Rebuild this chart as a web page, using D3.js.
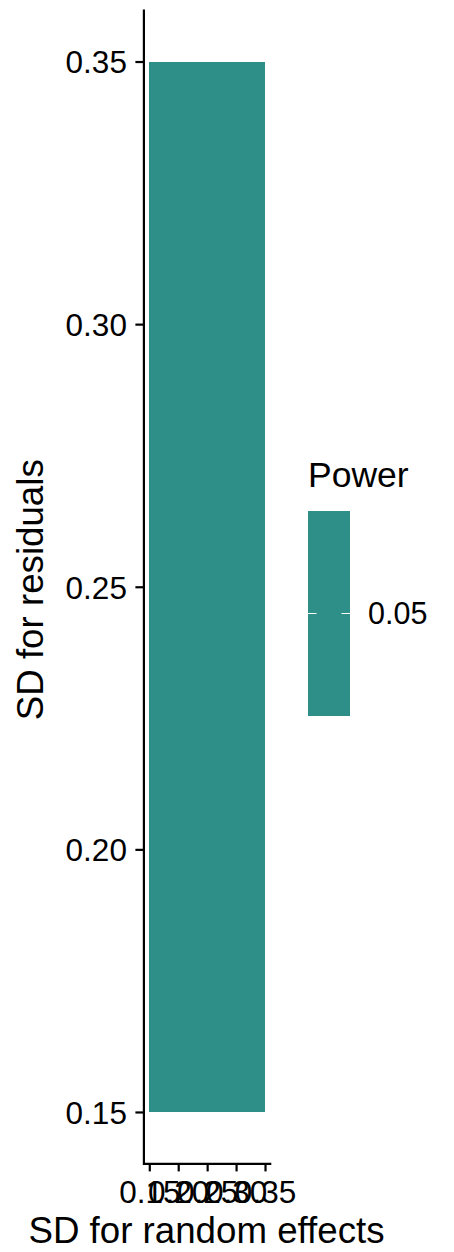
<!DOCTYPE html>
<meta charset="utf-8">
<head>
<style>
  * { margin: 0; padding: 0; }
  body { background: #fff; }
  svg { display: block; font-family: "Liberation Sans", Arial, sans-serif; }
</style>
</head>
<body>
<svg id="chart" width="454" height="1252"></svg>
<script src="https://cdn.jsdelivr.net/npm/d3@7"></script>
<script>
  // grid of the simulation: SD for random effects (x) and SD for residuals (y)
  var sdRandom = [0.15, 0.20, 0.25, 0.30, 0.35];
  var sdResidual = [0.15, 0.20, 0.25, 0.30, 0.35];
  // power for each cell, rows = residual SD, cols = random SD
  var power = [
    [0.05, 0.05, 0.05, 0.05],
    [0.05, 0.05, 0.05, 0.05],
    [0.05, 0.05, 0.05, 0.05],
    [0.05, 0.05, 0.05, 0.05]
  ];
  var xTicks = [0.15, 0.20, 0.25, 0.30, 0.35];
  var yTicks = [0.15, 0.20, 0.25, 0.30, 0.35];
  var legendTicks = [0.05];

  var svg = d3.select("#chart");

  var x = d3.scaleLinear().domain([0.14, 0.36]).range([143.5, 270.8]);
  var y = d3.scaleLinear().domain([0.14, 0.36]).range([1164.5, 9]);

  // single value -> middle of viridis
  var fill = function(v) { return "#2d8f87"; };

  var cells = [];
  for (var i = 0; i < sdResidual.length - 1; i++) {
    for (var j = 0; j < sdRandom.length - 1; j++) {
      cells.push({x0: sdRandom[j], x1: sdRandom[j + 1],
                  y0: sdResidual[i], y1: sdResidual[i + 1], p: power[i][j]});
    }
  }

  svg.append("g")
    .attr("shape-rendering", "crispEdges")
    .selectAll("rect")
    .data(cells)
    .enter().append("rect")
    .attr("x", function(d) { return x(d.x0); })
    .attr("y", function(d) { return y(d.y1); })
    .attr("width", function(d) { return x(d.x1) - x(d.x0); })
    .attr("height", function(d) { return y(d.y0) - y(d.y1); })
    .attr("fill", function(d) { return fill(d.p); });

  // axes
  var fmt = d3.format(".2f");
  var yAxis = svg.append("g")
    .attr("transform", "translate(143.4,0)")
    .call(d3.axisLeft(y).tickValues(yTicks).tickFormat(fmt).tickSize(8).tickPadding(8.5).tickSizeOuter(0));
  var xAxis = svg.append("g")
    .attr("transform", "translate(0,1163.4)")
    .call(d3.axisBottom(x).tickValues(xTicks).tickFormat(fmt).tickSize(8).tickPadding(9).tickSizeOuter(0));

  [xAxis, yAxis].forEach(function(g) {
    g.select(".domain").attr("stroke", "#000").attr("stroke-width", 2.2);
    g.selectAll(".tick line").attr("stroke", "#000").attr("stroke-width", 2.2);
    g.selectAll(".tick text")
      .attr("fill", "#000")
      .style("font-size", "31.5px")
      .style("font-family", "'Liberation Sans', Arial, sans-serif");
  });
  xAxis.selectAll(".tick text").attr("dy", "0.72em");
  yAxis.selectAll(".tick text").attr("dy", "0.36em");

  // axis titles
  svg.append("text")
    .attr("x", 206.5)
    .attr("y", 1243)
    .attr("text-anchor", "middle")
    .style("font-size", "36.7px")
    .text("SD for random effects");

  svg.append("text")
    .attr("transform", "translate(43," + ((y.range()[0] + y.range()[1]) / 2 + 3) + ") rotate(-90)")
    .attr("text-anchor", "middle")
    .style("font-size", "36.7px")
    .text("SD for residuals");

  // legend
  var legend = svg.append("g");
  legend.append("text")
    .attr("x", 308)
    .attr("y", 487)
    .style("font-size", "35.5px")
    .text("Power");

  var lg = d3.scaleLinear().domain([0.04, 0.06]).range([716, 511]);
  legend.append("rect")
    .attr("x", 308).attr("y", lg(0.06))
    .attr("width", 42).attr("height", lg(0.04) - lg(0.06))
    .attr("fill", fill(0.05));

  var lt = legend.selectAll(".lt").data(legendTicks).enter().append("g")
    .attr("transform", function(d) { return "translate(0," + lg(d) + ")"; });
  lt.append("line").attr("x1", 308).attr("x2", 316.5).attr("stroke", "#fff").attr("stroke-width", 1);
  lt.append("line").attr("x1", 341.5).attr("x2", 350).attr("stroke", "#fff").attr("stroke-width", 1);
  lt.append("text")
    .attr("x", 368)
    .attr("dy", "0.36em")
    .style("font-size", "30.5px")
    .text(function(d) { return fmt(d); });
</script>
</body>
